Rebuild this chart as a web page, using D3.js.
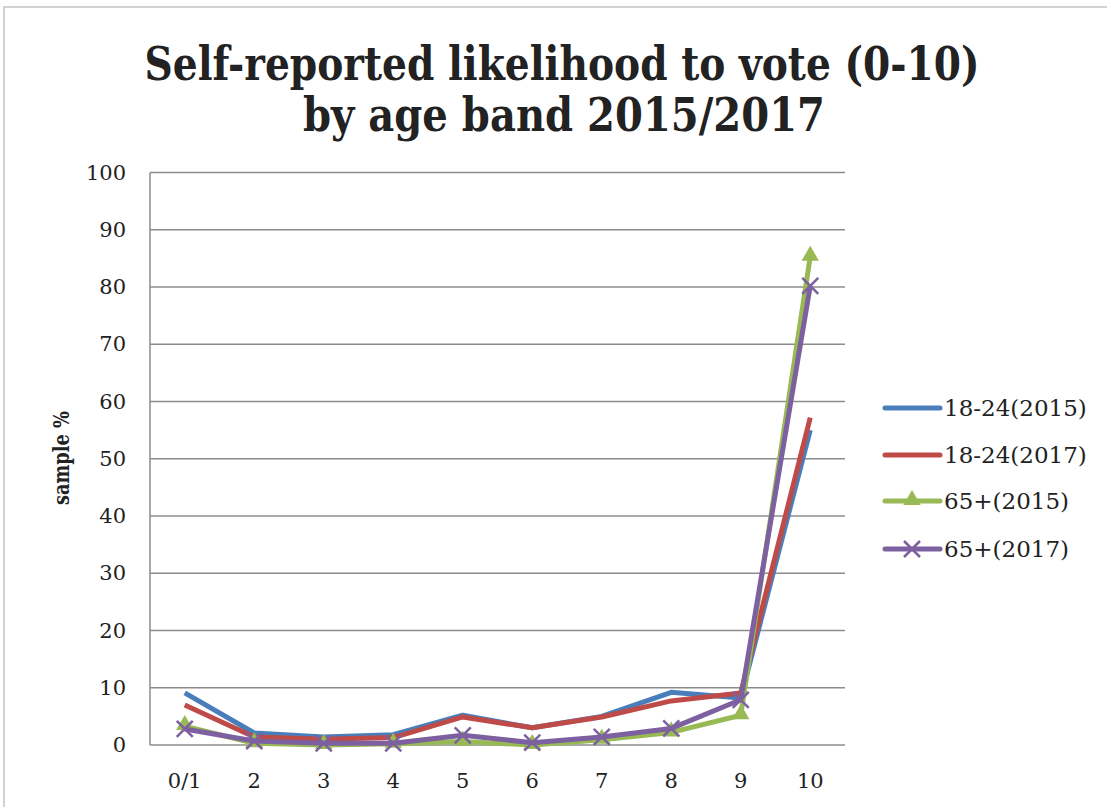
<!DOCTYPE html>
<html lang="en">
  <head>
    <meta http-equiv="Content-Type" content="text/html; charset=utf-8"/>
    <style>
body { margin: 0; background: #fff; }
text {
  font-family: "DejaVu Serif", "Liberation Serif", serif;
  fill: #222;
}
.grid line { stroke: #8c8c8c; stroke-width: 1.5; }
.series path.line { fill: none; stroke-width: 5; stroke-linejoin: round; }
    </style>
  </head>
  <body>
    <svg width="1107" height="807"></svg>
    <script src="https://d3js.org/d3.v7.min.js"></script>
    <script>

var categories = ['0/1', '2', '3', '4', '5', '6', '7', '8', '9', '10'];
var yTicks = [0, 10, 20, 30, 40, 50, 60, 70, 80, 90, 100];

var young2015 = [9.1, 2.1, 1.4, 1.8, 5.2, 3.0, 5.0, 9.2, 8.2, 55.0];
var young2017 = [7.0, 1.4, 1.0, 1.3, 4.9, 3.0, 4.9, 7.7, 9.1, 57.2];
var old2015   = [3.3, 0.3, 0.0, 0.2, 0.6, 0.0, 0.9, 2.2, 5.2, 85.3];
var old2017   = [2.8, 0.7, 0.3, 0.3, 1.7, 0.4, 1.4, 2.9, 7.9, 80.2];

var seriesNames = ['18-24(2015)', '18-24(2017)', '65+(2015)', '65+(2017)'];
var seriesColors = ['#4a7ebb', '#be4b48', '#98b954', '#7d60a0'];
var seriesMarkers = ['none', 'none', 'triangle', 'cross'];
var seriesValues = [young2015, young2017, old2015, old2017];

var svg = d3.select('svg');

// chart frame
svg.append('rect')
  .attr('x', 4).attr('y', 7)
  .attr('width', 1200).attr('height', 900)
  .attr('fill', 'none')
  .attr('stroke', '#c4c4c4')
  .attr('stroke-width', 1.5);

var plotLeft = 150, plotRight = 845, plotTop = 172.6, plotBottom = 745;

var x = d3.scalePoint().domain(categories).range([plotLeft, plotRight]).padding(0.5);
var y = d3.scaleLinear().domain([0, 100]).range([plotBottom, plotTop]);

// gridlines
svg.append('g').attr('class', 'grid')
  .selectAll('line')
  .data(yTicks)
  .enter().append('line')
  .attr('x1', plotLeft).attr('x2', plotRight)
  .attr('y1', d => y(d)).attr('y2', d => y(d));

// left axis line
svg.append('line')
  .attr('x1', plotLeft).attr('x2', plotLeft)
  .attr('y1', plotTop).attr('y2', plotBottom)
  .attr('stroke', '#8c8c8c').attr('stroke-width', 1.5);

// y tick labels
svg.append('g')
  .selectAll('text')
  .data(yTicks)
  .enter().append('text')
  .attr('x', 126)
  .attr('y', d => y(d) + 7)
  .attr('text-anchor', 'end')
  .style('font-size', '21px')
  .text(d => d);

// x tick labels
svg.append('g')
  .selectAll('text')
  .data(categories)
  .enter().append('text')
  .attr('x', d => x(d))
  .attr('y', 788)
  .attr('text-anchor', 'middle')
  .style('font-size', '21px')
  .text(d => d);

// y axis title
svg.append('text')
  .attr('transform', 'translate(69,458) rotate(-90)')
  .attr('text-anchor', 'middle')
  .attr('textLength', 94)
  .attr('lengthAdjust', 'spacingAndGlyphs')
  .style('font-size', '22px')
  .style('font-weight', 'bold')
  .text('sample %');

// title, two lines
svg.append('text')
  .attr('x', 562).attr('y', 80)
  .attr('text-anchor', 'middle')
  .attr('textLength', 835)
  .attr('lengthAdjust', 'spacingAndGlyphs')
  .style('font-size', '47px')
  .style('font-weight', 'bold')
  .text('Self-reported likelihood to vote (0-10)');

svg.append('text')
  .attr('x', 564).attr('y', 131)
  .attr('text-anchor', 'middle')
  .attr('textLength', 522)
  .attr('lengthAdjust', 'spacingAndGlyphs')
  .style('font-size', '47px')
  .style('font-weight', 'bold')
  .text('by age band 2015/2017');

var line = d3.line()
  .x((d, i) => x(categories[i]))
  .y(d => y(d));

function drawMarker(g, type, color, cx, cy) {
  if (type === 'triangle') {
    g.append('path')
      .attr('d', d3.symbol().type(d3.symbolTriangle).size(130)())
      .attr('transform', 'translate(' + cx + ',' + (cy - 1) + ')')
      .attr('fill', color);
  } else if (type === 'cross') {
    g.append('path')
      .attr('d', 'M-8,-8L8,8M-8,8L8,-8')
      .attr('transform', 'translate(' + cx + ',' + cy + ')')
      .attr('stroke', color)
      .attr('stroke-width', 2.5)
      .attr('fill', 'none');
  }
}

seriesValues.forEach(function(vals, s) {
  var g = svg.append('g').attr('class', 'series');
  g.append('path')
    .datum(vals)
    .attr('class', 'line')
    .attr('d', line)
    .attr('stroke', seriesColors[s]);
  vals.forEach(function(v, i) {
    drawMarker(g, seriesMarkers[s], seriesColors[s], x(categories[i]), y(v));
  });
});

// legend
var legendY = [408, 455, 501, 549];
seriesNames.forEach(function(name, s) {
  var g = svg.append('g');
  g.append('line')
    .attr('x1', 885).attr('x2', 940)
    .attr('y1', legendY[s]).attr('y2', legendY[s])
    .attr('stroke', seriesColors[s])
    .attr('stroke-width', 5)
    .attr('stroke-linecap', 'round');
  drawMarker(g, seriesMarkers[s], seriesColors[s], 912, legendY[s]);
  g.append('text')
    .attr('x', 944)
    .attr('y', legendY[s] + 8)
    .style('font-size', '23px')
    .text(name);
});

    </script>
  </body>
</html>
